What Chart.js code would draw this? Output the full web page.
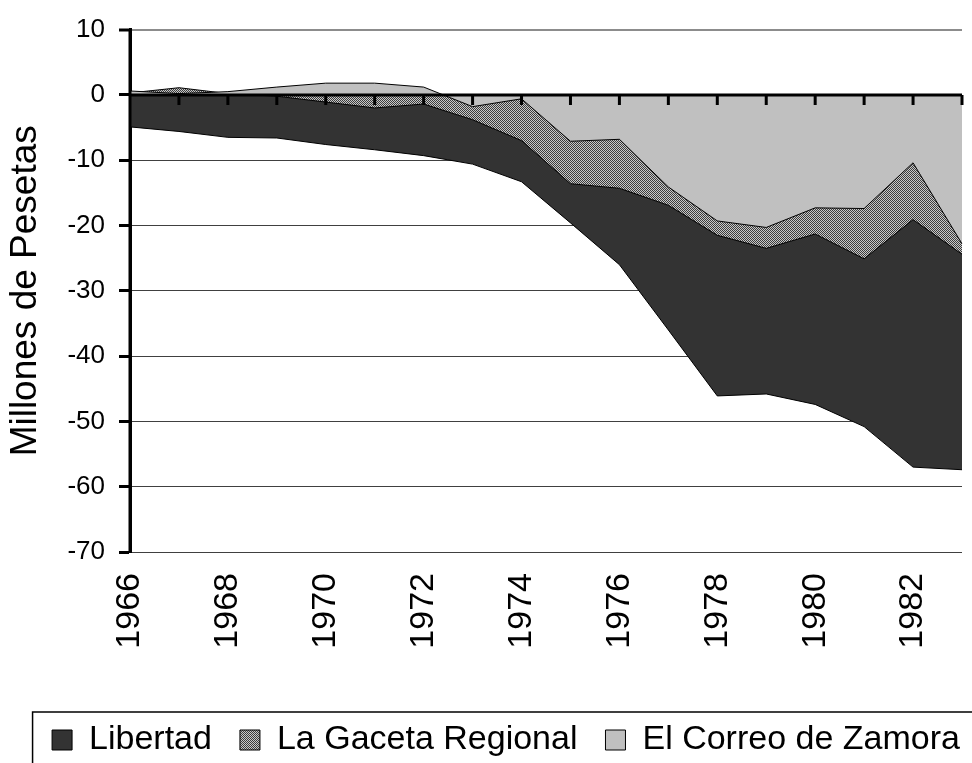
<!DOCTYPE html>
<html>
<head>
<meta charset="utf-8">
<script src="https://cdn.jsdelivr.net/npm/chart.js@4.4.1/dist/chart.umd.min.js"></script>
<style>
  html, body { margin: 0; padding: 0; background: #fff; }
  #chartContainer { width: 972px; height: 763px; }
</style>
</head>
<body>
<div id="chartContainer"><canvas id="lossChart"></canvas></div>
<script>
// -- DATA (millones de pesetas)
const years = ["1966", "1967", "1968", "1969", "1970", "1971", "1972", "1973", "1974",
               "1975", "1976", "1977", "1978", "1979", "1980", "1981", "1982", "1983"];
const libertad = [-4.9, -5.6, -6.5, -6.6, -7.6, -8.4, -9.3, -10.6, -13.3,
                  -19.6, -26.0, -36.0, -46.1, -45.8, -47.4, -50.8, -57.0, -57.4];
const gaceta = [0.3, 1.1, 0.2, -0.2, -1.1, -2.0, -1.4, -3.8, -7.0,
                -13.6, -14.3, -16.9, -21.5, -23.5, -21.3, -25.1, -19.1, -24.4];
const correo = [0.6, 0.2, 0.5, 1.2, 1.8, 1.8, 1.2, -1.8, -0.6,
                -7.1, -6.8, -14.1, -19.3, -20.3, -17.3, -17.4, -10.4, -22.8];
const yMin = -70;
const yMax = 10;
const yStep = 10;

Chart.defaults.font.family = "'Liberation Sans', Arial, sans-serif";
Chart.defaults.color = "#000";

const canvas = document.getElementById("lossChart");
const ctx = canvas.getContext("2d");

// fine dotted fill, like the old spreadsheet pattern
function makeDotPattern() {
    const c = document.createElement("canvas");
    c.width = 2;
    c.height = 2;
    const p = c.getContext("2d");
    p.fillStyle = "#c8c8c8";
    p.fillRect(0, 0, 2, 2);
    p.fillStyle = "#3c3c3c";
    p.fillRect(0, 0, 1, 1);
    p.fillRect(1, 1, 1, 1);
    return ctx.createPattern(c, "repeat");
}

// zero axis with its tick marks sits on top of the areas, plus the legend frame
const axisOverlay = {
    id: "axisOverlay",
    afterDatasetsDraw(chart) {
        const { ctx, chartArea, scales: { x, y } } = chart;
        const y0 = y.getPixelForValue(0);
        ctx.save();
        ctx.strokeStyle = "#000";
        ctx.lineWidth = 3;
        ctx.beginPath();
        ctx.moveTo(chartArea.left, y0);
        ctx.lineTo(chartArea.right, y0);
        x.ticks.forEach((t, i) => {
            const px = x.getPixelForTick(i);
            ctx.moveTo(px, y0);
            ctx.lineTo(px, y0 + 10);
        });
        ctx.moveTo(chartArea.left, chartArea.top);
        ctx.lineTo(chartArea.left, chartArea.bottom);
        ctx.stroke();
        ctx.restore();
    },
    afterDraw(chart) {
        const first = chart.legend.legendHitBoxes[0];
        if (!first) return;
        const { ctx } = chart;
        ctx.save();
        ctx.strokeStyle = "#000";
        ctx.lineWidth = 1.5;
        ctx.strokeRect(first.left - 19.5, first.top - 11, chart.width, chart.height);
        ctx.restore();
    }
};

const chart = new Chart(ctx, {
    type: "line",
    data: {
        labels: years,
        datasets: [
            {
                label: "Libertad",
                data: libertad,
                backgroundColor: "#333333",
                borderColor: "#000",
                borderWidth: 1,
                fill: "origin",
                order: 2
            },
            {
                label: "La Gaceta Regional",
                data: gaceta,
                backgroundColor: makeDotPattern(),
                borderColor: "#000",
                borderWidth: 1,
                fill: "origin",
                order: 1
            },
            {
                label: "El Correo de Zamora",
                data: correo,
                backgroundColor: "#c0c0c0",
                borderColor: "#000",
                borderWidth: 1,
                fill: "origin",
                order: 0
            }
        ]
    },
    options: {
        responsive: true,
        maintainAspectRatio: false,
        animation: false,
        layout: {
            padding: { left: 20, right: -20, top: 29, bottom: -4 }
        },
        elements: {
            point: { radius: 0 },
            line: { tension: 0 }
        },
        plugins: {
            tooltip: { enabled: false },
            legend: {
                position: "bottom",
                labels: {
                    font: { size: 34 },
                    color: "#000",
                    boxWidth: 20,
                    boxHeight: 20,
                    padding: 28,
                    sort: (a, b) => a.datasetIndex - b.datasetIndex
                }
            }
        },
        scales: {
            x: {
                grid: { display: false, drawTicks: false },
                border: { display: false },
                ticks: {
                    autoSkip: false,
                    minRotation: 90,
                    maxRotation: 90,
                    padding: 21,
                    font: { size: 34 },
                    color: "#000",
                    callback: function (value, index) {
                        return index % 2 === 0 ? this.getLabelForValue(value) : "";
                    }
                },
                afterFit(scale) {
                    scale.height = 143;
                    scale.paddingLeft = 0;
                    scale.paddingRight = 0;
                }
            },
            y: {
                min: yMin,
                max: yMax,
                ticks: {
                    stepSize: yStep,
                    padding: 14,
                    font: { size: 26 },
                    color: "#000"
                },
                grid: {
                    color: c => c.tick.value === 0 ? "rgba(0,0,0,0)"
                        : (c.tick.value === yMax ? "#8c8c8c" : "#404040"),
                    lineWidth: c => c.tick.value === yMax ? 2 : 1,
                    tickColor: "#000",
                    tickWidth: 3,
                    tickLength: 11
                },
                border: { display: true, color: "#000", width: 3 },
                title: {
                    display: true,
                    text: "Millones de Pesetas",
                    font: { size: 37 },
                    color: "#000",
                    padding: { top: -16, bottom: 0 }
                },
                afterFit(scale) {
                    scale.width = 110;
                }
            },
            // empty right box, only keeps the plot inside the canvas
            yRight: {
                position: "right",
                display: true,
                min: yMin,
                max: yMax,
                ticks: { display: false },
                grid: { display: false, drawTicks: false },
                border: { display: false },
                afterFit(scale) {
                    scale.width = 30;
                }
            }
        }
    },
    plugins: [axisOverlay]
});
</script>
</body>
</html>
